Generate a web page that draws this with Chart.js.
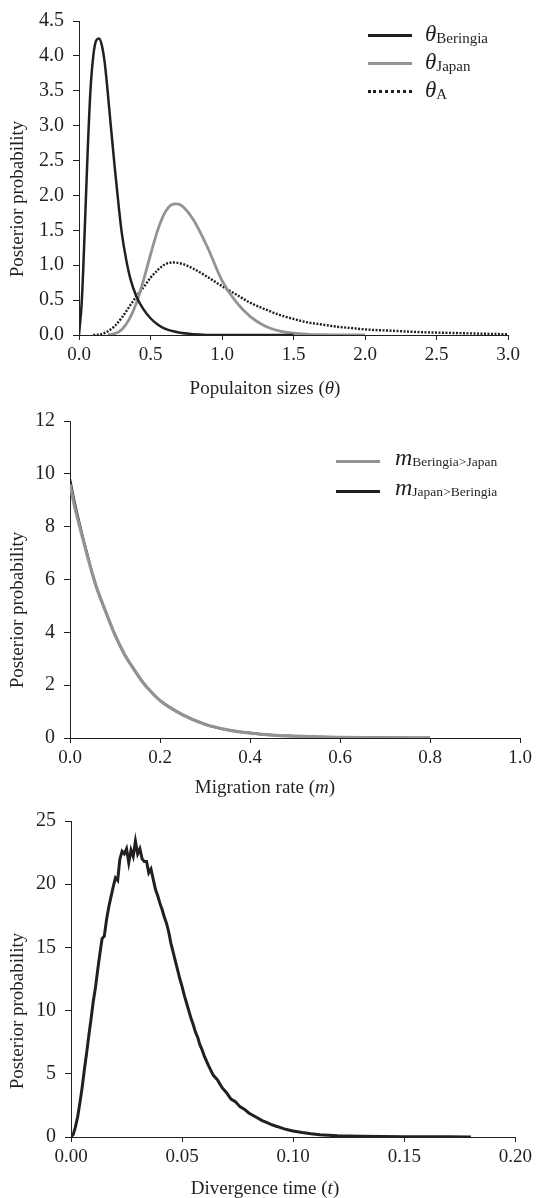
<!DOCTYPE html>
<html>
<head>
<meta charset="utf-8">
<script src="https://cdn.jsdelivr.net/npm/chart.js@4.4.1/dist/chart.umd.min.js"></script>
<style>
  body { margin: 0; background: #fff; width: 536px; height: 1198px; position: relative; overflow: hidden;
         font-family: "Liberation Serif", "Times New Roman", serif; color: #231f20; }
  canvas { position: absolute; left: 0; }
  .xt { position: absolute; left: 0; width: 530px; text-align: center; font-size: 19px; line-height: 22px; }
  .yt { position: absolute; font-size: 19px; line-height: 22px; white-space: nowrap; transform: translate(-50%, -50%) rotate(-90deg); }
  .ln { position: absolute; height: 0; }
  .lg { position: absolute; white-space: nowrap; }
  .lg i { font-size: 23px; line-height: 22px; }
  .lg span { font-size: 15px; position: relative; top: 2px; }
  .lm i { font-size: 24px; line-height: 23px; }
  .lm span { font-size: 13.5px; position: relative; top: 1px; }
</style>
</head>
<body>
<canvas id="c1" width="536" height="400" style="top:0"></canvas>
<canvas id="c2" width="536" height="400" style="top:400px"></canvas>
<canvas id="c3" width="536" height="398" style="top:800px"></canvas>

<!-- axis titles -->
<div class="yt" style="left:17px;top:199px">Posterior probability</div>
<div class="xt" style="top:377px">Populaiton sizes (<i>θ</i>)</div>
<div class="yt" style="left:17px;top:610px">Posterior probability</div>
<div class="xt" style="top:776px">Migration rate (<i>m</i>)</div>
<div class="yt" style="left:17px;top:1011px">Posterior probability</div>
<div class="xt" style="top:1177px">Divergence time (<i>t</i>)</div>

<!-- legend, panel 1 -->
<div class="ln" style="left:368px;top:34px;width:44px;border-top:3px solid #231f20"></div>
<div class="lg" style="left:425px;top:23px"><i>θ</i><span>Beringia</span></div>
<div class="ln" style="left:368px;top:62px;width:44px;border-top:3px solid #939393"></div>
<div class="lg" style="left:425px;top:51px"><i>θ</i><span>Japan</span></div>
<div class="ln" style="left:368px;top:90px;width:44px;border-top:3px dotted #231f20"></div>
<div class="lg" style="left:425px;top:79px"><i>θ</i><span>A</span></div>

<!-- legend, panel 2 -->
<div class="ln" style="left:336px;top:460px;width:44px;border-top:3px solid #939393"></div>
<div class="lg lm" style="left:395px;top:446px"><i>m</i><span>Beringia&gt;Japan</span></div>
<div class="ln" style="left:336px;top:490px;width:44px;border-top:3px solid #231f20"></div>
<div class="lg lm" style="left:395px;top:476px"><i>m</i><span>Japan&gt;Beringia</span></div>

<script>
// colours
const ink = '#231f20';
const grey = '#939393';

// panel 1: population sizes (theta)
const thetaTicksX = [0, 0.5, 1.0, 1.5, 2.0, 2.5, 3.0];
const thetaTicksY = [0, 0.5, 1.0, 1.5, 2.0, 2.5, 3.0, 3.5, 4.0, 4.5];
const beringiaX = [0, 0.02, 0.04, 0.06, 0.08, 0.10, 0.12, 0.14, 0.16, 0.18, 0.20, 0.22, 0.25, 0.28, 0.30, 0.33, 0.36, 0.40, 0.45, 0.50, 0.55, 0.60, 0.70, 0.80, 1.0, 1.5];
const beringiaY = [0, 0.5, 1.5, 2.6, 3.5, 4.0, 4.22, 4.25, 4.15, 3.9, 3.5, 3.05, 2.4, 1.8, 1.45, 1.08, 0.8, 0.56, 0.37, 0.24, 0.15, 0.09, 0.035, 0.012, 0, 0];
const japanX = [0.20, 0.25, 0.30, 0.35, 0.40, 0.45, 0.50, 0.55, 0.60, 0.65, 0.68, 0.72, 0.80, 0.90, 1.00, 1.10, 1.20, 1.30, 1.40, 1.50, 1.60, 1.70, 1.85, 2.0];
const japanY = [0, 0.02, 0.08, 0.22, 0.45, 0.78, 1.15, 1.5, 1.75, 1.87, 1.88, 1.85, 1.65, 1.25, 0.78, 0.47, 0.26, 0.13, 0.06, 0.025, 0.01, 0.004, 0, 0];
const ancestralX = [0.10, 0.15, 0.20, 0.25, 0.30, 0.35, 0.40, 0.45, 0.50, 0.55, 0.60, 0.66, 0.72, 0.80, 0.90, 1.00, 1.10, 1.20, 1.30, 1.40, 1.50, 1.60, 1.70, 1.80, 1.90, 2.00, 2.20, 2.40, 2.60, 2.80, 3.00];
const ancestralY = [0, 0.01, 0.05, 0.13, 0.25, 0.4, 0.55, 0.68, 0.82, 0.93, 1.01, 1.04, 1.02, 0.95, 0.83, 0.70, 0.58, 0.46, 0.37, 0.29, 0.23, 0.18, 0.15, 0.12, 0.1, 0.08, 0.06, 0.04, 0.03, 0.02, 0.01];

// panel 2: migration rate (m)
const migTicksX = [0, 0.2, 0.4, 0.6, 0.8, 1.0];
const migTicksY = [0, 2, 4, 6, 8, 10, 12];
const migX = [0, 0.01, 0.02, 0.03, 0.04, 0.05, 0.06, 0.08, 0.10, 0.12, 0.14, 0.16, 0.18, 0.20, 0.25, 0.30, 0.35, 0.40, 0.45, 0.50, 0.55, 0.60, 0.70, 0.80];
const migBerJapY = [9.6, 8.8, 8.1, 7.45, 6.8, 6.2, 5.65, 4.75, 3.9, 3.2, 2.65, 2.15, 1.75, 1.42, 0.88, 0.52, 0.31, 0.19, 0.11, 0.07, 0.04, 0.025, 0.01, 0.003];
const migJapBerY = [9.8, 8.95, 8.2, 7.5, 6.85, 6.2, 5.65, 4.75, 3.9, 3.2, 2.65, 2.15, 1.75, 1.42, 0.88, 0.52, 0.31, 0.19, 0.11, 0.07, 0.04, 0.025, 0.01, 0.003];

// panel 3: divergence time (t)
const divTicksX = [0, 0.05, 0.10, 0.15, 0.20];
const divTicksY = [0, 5, 10, 15, 20, 25];
const divX = [0, 0.001, 0.002, 0.003, 0.004, 0.005, 0.006, 0.007, 0.008, 0.009, 0.010, 0.011, 0.012, 0.013, 0.014, 0.015, 0.016, 0.017, 0.018, 0.019,
  0.020, 0.021, 0.022, 0.023, 0.024, 0.025, 0.026, 0.027, 0.028, 0.029, 0.030, 0.031, 0.032, 0.033, 0.034, 0.035, 0.036, 0.037, 0.038, 0.039,
  0.040, 0.041, 0.042, 0.043, 0.044, 0.045, 0.046, 0.047, 0.048, 0.049, 0.050, 0.051, 0.052, 0.053, 0.054, 0.055, 0.056, 0.057, 0.058, 0.059,
  0.060, 0.062, 0.064, 0.066, 0.068, 0.070, 0.072, 0.074, 0.076, 0.078, 0.080, 0.082, 0.084, 0.086, 0.088, 0.090, 0.092, 0.094, 0.096, 0.098,
  0.100, 0.104, 0.108, 0.112, 0.116, 0.120, 0.125, 0.130, 0.140, 0.150, 0.160, 0.170, 0.180];
const divY = [0, 0.2, 0.8, 1.6, 2.7, 3.9, 5.3, 6.6, 8.0, 9.3, 10.7, 11.8, 13.2, 14.5, 15.7, 15.9, 17.2, 18.2, 19.0, 19.8,
  20.5, 20.3, 22.0, 22.6, 22.4, 22.8, 21.7, 22.7, 22.2, 23.4, 22.4, 22.8, 22.0, 21.8, 21.8, 20.9, 21.2, 20.4, 19.6, 19.1,
  18.5, 18.0, 17.4, 16.9, 16.2, 15.3, 14.6, 13.9, 13.2, 12.5, 11.9, 11.2, 10.6, 10.0, 9.4, 8.9, 8.3, 7.9, 7.3, 6.9,
  6.4, 5.6, 4.9, 4.5, 3.9, 3.5, 3.0, 2.8, 2.4, 2.2, 1.9, 1.7, 1.5, 1.3, 1.15, 1.0, 0.87, 0.76, 0.64, 0.55,
  0.48, 0.36, 0.26, 0.18, 0.13, 0.09, 0.07, 0.05, 0.03, 0.02, 0.01, 0.01, 0];

const tickFontX = { family: '"Liberation Serif", "Times New Roman", serif', size: 19 };
const tickFontY = { family: '"Liberation Serif", "Times New Roman", serif', size: 20 };

function pts(xs, ys) {
  return xs.map(function (x, i) { return { x: x, y: ys[i] }; });
}

function axis(ticks, digits, isX, size) {
  return {
    type: 'linear',
    min: ticks[0],
    max: ticks[ticks.length - 1],
    afterBuildTicks: function (s) { s.ticks = ticks.map(function (v) { return { value: v }; }); },
    afterFit: function (s) { if (isX) s.height = size; else s.width = size; },
    ticks: {
      color: ink, font: isX ? tickFontX : tickFontY, padding: isX ? 4 : 9, maxRotation: 0, autoSkip: false,
      callback: function (v) { return v.toFixed(digits); }
    },
    grid: { drawOnChartArea: false, drawTicks: true, tickLength: isX ? 5 : 6, color: ink, lineWidth: 1 },
    border: { color: ink, width: 1 }
  };
}

function line(data, color, width, dash, smooth) {
  return {
    data: data, borderColor: color, borderWidth: width, borderDash: dash || [],
    pointRadius: 0, fill: false,
    tension: smooth ? 0.4 : 0, cubicInterpolationMode: smooth ? 'monotone' : 'default'
  };
}

function makeChart(id, datasets, xs, ys, pad) {
  new Chart(document.getElementById(id), {
    type: 'line',
    data: { datasets: datasets },
    options: {
      responsive: false, animation: false, devicePixelRatio: 1,
      layout: { padding: { top: pad.top, right: pad.right, left: 0, bottom: 0 } },
      plugins: { legend: { display: false }, tooltip: { enabled: false } },
      scales: { x: xs, y: ys }
    }
  });
}

makeChart('c1', [
  line(pts(beringiaX, beringiaY), ink, 2.5, null, true),
  line(pts(japanX, japanY), grey, 2.8, null, true),
  line(pts(ancestralX, ancestralY), ink, 2.4, [2, 1.5], true)
], axis(thetaTicksX, 1, true, 65), axis(thetaTicksY, 1, false, 79), { top: 15, right: 28 });

makeChart('c2', [
  line(pts(migX, migBerJapY), grey, 3.2, null, true),
  line(pts(migX, migJapBerY), ink, 2.4, null, true)
], axis(migTicksX, 1, true, 62), axis(migTicksY, 0, false, 70), { top: 18, right: 13 });

makeChart('c3', [
  line(pts(divX, divY), ink, 3, null, false)
], axis(divTicksX, 2, true, 61), axis(divTicksY, 0, false, 71), { top: 18, right: 19 });
</script>
</body>
</html>
